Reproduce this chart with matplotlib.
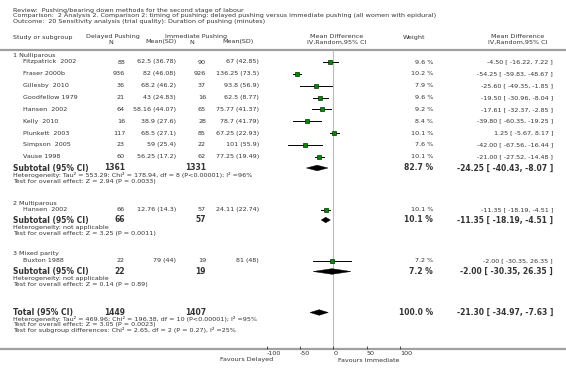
import matplotlib
matplotlib.use("Agg")
import matplotlib.pyplot as plt
from matplotlib.patches import Polygon

title_lines = [
    "Review:  Pushing/bearing down methods for the second stage of labour",
    "Comparison:  2 Analysis 2. Comparison 2: timing of pushing: delayed pushing versus immediate pushing (all women with epidural)",
    "Outcome:  20 Sensitivity analysis (trial quality): Duration of pushing (minutes)",
]

group_names = ["1 Nulliparous", "2 Multiparous", "3 Mixed parity"]
studies = ["Fitzpatrick  2002", "Fraser 2000b", "Gillesby  2010", "Goodfellow 1979",
           "Hansen  2002", "Kelly  2010", "Plunkett  2003", "Simpson  2005", "Vause 1998",
           "Hansen  2002", "Buxton 1988"]
study_group = [0, 0, 0, 0, 0, 0, 0, 0, 0, 1, 2]
d_n = [88, 936, 36, 21, 64, 16, 117, 23, 60, 66, 22]
d_msd = ["62.5 (36.78)", "82 (46.08)", "68.2 (46.2)", "43 (24.83)", "58.16 (44.07)",
         "38.9 (27.6)", "68.5 (27.1)", "59 (25.4)", "56.25 (17.2)", "12.76 (14.3)", "79 (44)"]
i_n = [90, 926, 37, 16, 65, 28, 85, 22, 62, 57, 19]
i_msd = ["67 (42.85)", "136.25 (73.5)", "93.8 (56.9)", "62.5 (8.77)", "75.77 (41.37)",
         "78.7 (41.79)", "67.25 (22.93)", "101 (55.9)", "77.25 (19.49)", "24.11 (22.74)", "81 (48)"]
weight = [9.6, 10.2, 7.9, 9.6, 9.2, 8.4, 10.1, 7.6, 10.1, 10.1, 7.2]
md = [-4.50, -54.25, -25.60, -19.50, -17.61, -39.80, 1.25, -42.00, -21.00, -11.35, -2.00]
ci_lo = [-16.22, -59.83, -49.35, -30.96, -32.37, -60.35, -5.67, -67.56, -27.52, -18.19, -30.35]
ci_hi = [7.22, -48.67, -1.85, -8.04, -2.85, -19.25, 8.17, -16.44, -14.48, -4.51, 26.35]

sub_dn = [1361, 66, 22]
sub_in = [1331, 57, 19]
sub_w = [82.7, 10.1, 7.2]
sub_md = [-24.25, -11.35, -2.00]
sub_lo = [-40.43, -18.19, -30.35]
sub_hi = [-8.07, -4.51, 26.35]
sub_het = ["Heterogeneity: Tau\u00b2 = 553.29; Chi\u00b2 = 178.94, df = 8 (P<0.00001); I\u00b2 =96%",
           "Heterogeneity: not applicable", "Heterogeneity: not applicable"]
sub_test = ["Test for overall effect: Z = 2.94 (P = 0.0033)",
            "Test for overall effect: Z = 3.25 (P = 0.0011)",
            "Test for overall effect: Z = 0.14 (P = 0.89)"]

tot_dn, tot_in, tot_w = 1449, 1407, 100.0
tot_md, tot_lo, tot_hi = -21.30, -34.97, -7.63
tot_notes = ["Heterogeneity: Tau\u00b2 = 469.96; Chi\u00b2 = 196.38, df = 10 (P<0.00001); I\u00b2 =95%",
             "Test for overall effect: Z = 3.05 (P = 0.0023)",
             "Test for subgroup differences: Chi\u00b2 = 2.65, df = 2 (P = 0.27), I\u00b2 =25%"]

xticks = [-100, -50, 0, 50, 100]

# layout (pixel rows)
W, H = 566, 372
small, big = 4.6, 5.5
col = "#333333"
x_lo_px, x_hi_px = 266.7, 400.0
top_line, bot_line = 50, 349
group_y = [55, 203, 254]
sub_y = [168, 220, 271.5]
row_y = [62 + 11.85 * k for k in range(9)] + [209.5, 260.5]
tot_y = 312.5

fig = plt.figure(figsize=(W / 100, H / 100), dpi=100)
ax = fig.add_axes([0, 0, 1, 1])
ax.set_xlim(0, W)
ax.set_ylim(H, 0)
ax.axis("off")

ax_f = fig.add_axes([x_lo_px / W, (H - bot_line) / H, (x_hi_px - x_lo_px) / W, (bot_line - top_line) / H])
ax_f.set_xlim(xticks[0], xticks[-1])
ax_f.set_ylim(bot_line, top_line)
ax_f.patch.set_alpha(0)
for s in ax_f.spines.values():
    s.set_visible(False)
ax_f.set_yticks([])
ax_f.set_xticks(xticks)
ax_f.set_xticklabels([str(t) for t in xticks], ha="left")
ax_f.tick_params(axis="x", direction="in", length=2.5, width=0.6, pad=1.5, labelsize=small, colors=col)
ax_f.axvline(0, color="#bbbbbb", lw=0.8, zorder=0)


def t(x, y, s, ha="left", bold=False, size=None):
    ax.text(x, y, s, ha=ha, va="center", fontsize=size or (big if bold else small),
            fontweight="bold" if bold else "normal", color=col)


for k, line in enumerate(title_lines):
    t(13, 10.5 + 5.3 * k, line)

# headers
t(13, 38, "Study or subgroup")
t(86, 36.5, "Delayed Pushing")
t(111, 42, "N", ha="center")
t(177, 42, "Mean(SD)", ha="right")
t(165, 36.5, "Immediate Pushing")
t(192, 42, "N", ha="center")
t(254, 42, "Mean(SD)", ha="right")
t(337, 36.5, "Mean Difference", ha="center")
t(337, 42, "IV,Random,95% CI", ha="center")
t(414, 37, "Weight", ha="center")
t(518, 36.5, "Mean Difference", ha="center")
t(518, 42, "IV,Random,95% CI", ha="center")

ax.plot([0, W], [top_line, top_line], color="#a0a0a0", lw=1.6)
ax.plot([0, W], [bot_line, bot_line], color="#a0a0a0", lw=1.6)


def diamond(y, m, lo, hi):
    ax_f.add_patch(Polygon([[lo, y], [m, y - 2.8], [hi, y], [m, y + 2.8]], closed=True,
                           facecolor="black", edgecolor="black", lw=0.3))


for i in range(len(studies)):
    y = row_y[i]
    t(23, y, studies[i])
    t(125, y, str(d_n[i]), ha="right")
    t(176, y, d_msd[i], ha="right")
    t(206, y, str(i_n[i]), ha="right")
    t(259, y, i_msd[i], ha="right")
    t(433, y, "%.1f %%" % weight[i], ha="right")
    t(553, y, "%.2f [ %.2f, %.2f ]" % (md[i], ci_lo[i], ci_hi[i]), ha="right")
    ax_f.plot([ci_lo[i], ci_hi[i]], [y, y], color="black", lw=0.7, clip_on=False)
    ax_f.plot(md[i], y, "s", ms=weight[i] ** 0.5 * 1.0, mfc="#008c00", mec="#003300", mew=0.5,
              clip_on=False)

for g in range(3):
    t(13, group_y[g], group_names[g])
    y = sub_y[g]
    t(13, y, "Subtotal (95% CI)", bold=True)
    t(125, y, str(sub_dn[g]), ha="right", bold=True)
    t(206, y, str(sub_in[g]), ha="right", bold=True)
    t(433, y, "%.1f %%" % sub_w[g], ha="right", bold=True)
    t(553, y, "%.2f [ %.2f, %.2f ]" % (sub_md[g], sub_lo[g], sub_hi[g]), ha="right", bold=True)
    t(13, y + 7, sub_het[g])
    t(13, y + 13, sub_test[g])
    diamond(y, sub_md[g], sub_lo[g], sub_hi[g])

t(13, tot_y, "Total (95% CI)", bold=True)
t(125, tot_y, str(tot_dn), ha="right", bold=True)
t(206, tot_y, str(tot_in), ha="right", bold=True)
t(433, tot_y, "%.1f %%" % tot_w, ha="right", bold=True)
t(553, tot_y, "%.2f [ %.2f, %.2f ]" % (tot_md, tot_lo, tot_hi), ha="right", bold=True)
for k, s in enumerate(tot_notes):
    t(13, tot_y + 6.5 + 5.3 * k, s)
diamond(tot_y, tot_md, tot_lo, tot_hi)

t(x_lo_px + 7, 360, "Favours Delayed", ha="right")
t(338, 360, "Favours Immediate")

fig.savefig("out.png", dpi=100)
